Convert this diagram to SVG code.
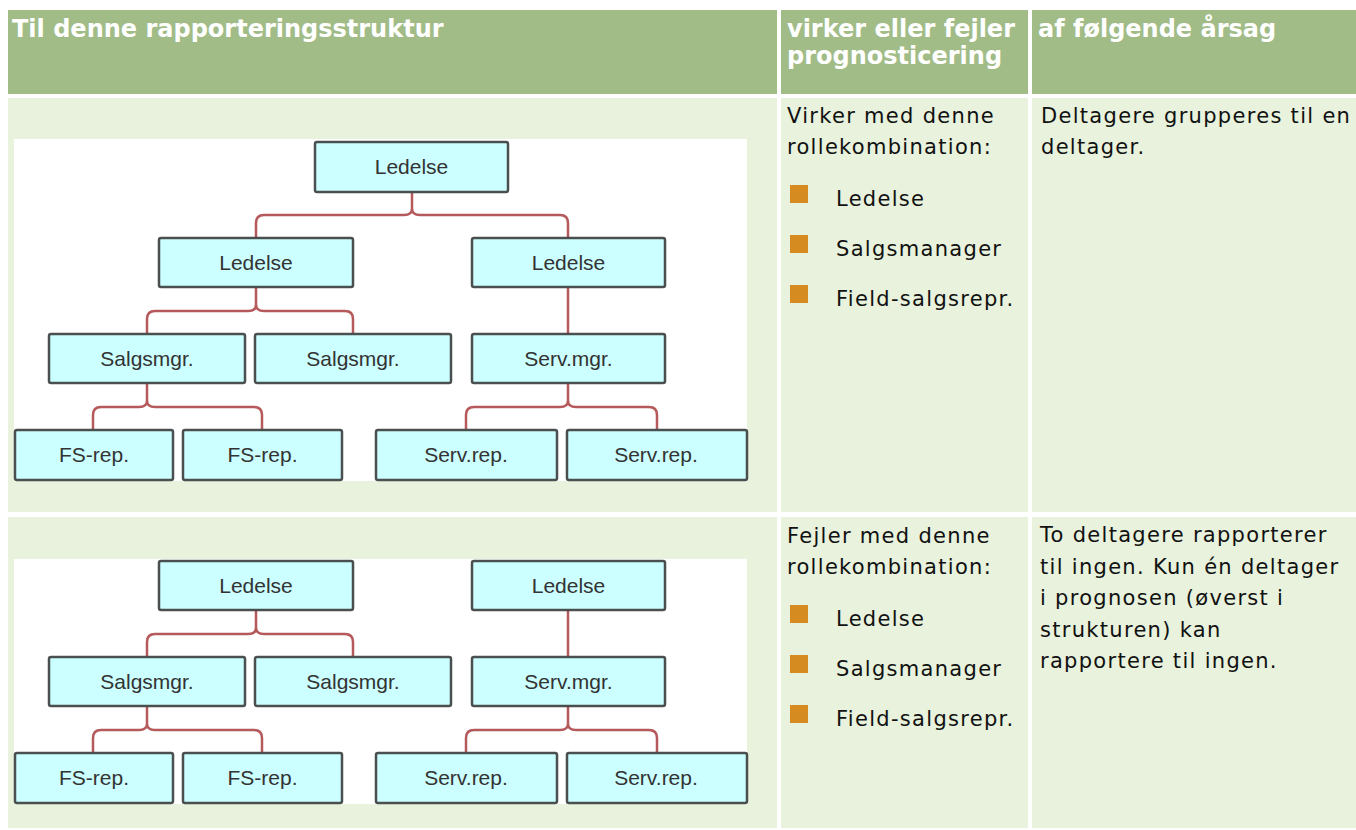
<svg xmlns="http://www.w3.org/2000/svg" width="1356" height="830" viewBox="0 0 1356 830">
<style>
.hdr{fill:#a1bc87}
.cell{fill:#e8f2dc}
.canvas{fill:#ffffff}
.ht{font-family:"DejaVu Sans",sans-serif;font-weight:bold;font-size:24px;fill:#ffffff}
.bt{font-family:"DejaVu Sans",sans-serif;font-size:21px;letter-spacing:1.3px;fill:#111111}
.bul{fill:#d58b20}
.box{fill:#ccffff;stroke:#4a4f4f;stroke-width:2.5}
.nt{font-family:"Liberation Sans",Arial,sans-serif;font-size:21px;fill:#333333;text-anchor:middle}
.con{fill:none;stroke:#b5595b;stroke-width:2.5}
</style>
<rect x="0" y="0" width="1356" height="830" fill="#ffffff"/>
<g id="table">
<rect class="hdr" x="8" y="10" width="769" height="84"/>
<rect class="hdr" x="781" y="10" width="247" height="84"/>
<rect class="hdr" x="1032" y="10" width="324" height="84"/>
<rect class="cell" x="8" y="98" width="769" height="414"/>
<rect class="cell" x="781" y="98" width="247" height="414"/>
<rect class="cell" x="1032" y="98" width="324" height="414"/>
<rect class="cell" x="8" y="517" width="769" height="311"/>
<rect class="cell" x="781" y="517" width="247" height="311"/>
<rect class="cell" x="1032" y="517" width="324" height="311"/>
<rect class="canvas" x="14" y="139" width="733" height="342"/>
<rect class="canvas" x="14" y="559" width="733" height="245"/>
</g>
<g id="header-text">
<text class="ht" x="12" y="37">Til denne rapporteringsstruktur</text>
<text class="ht" x="787" y="37">virker eller fejler</text>
<text class="ht" x="787" y="64">prognosticering</text>
<text class="ht" x="1038" y="37">af følgende årsag</text>
</g>
<g id="row1-text">
<text class="bt" x="787" y="123">Virker med denne</text>
<text class="bt" x="787" y="154">rollekombination:</text>
<rect class="bul" x="790" y="185" width="18" height="18"/>
<text class="bt" x="836" y="206">Ledelse</text>
<rect class="bul" x="790" y="235" width="18" height="18"/>
<text class="bt" x="836" y="256">Salgsmanager</text>
<rect class="bul" x="790" y="285" width="18" height="18"/>
<text class="bt" x="836" y="306">Field-salgsrepr.</text>
<text class="bt" x="1041" y="123">Deltagere grupperes til en</text>
<text class="bt" x="1041" y="154">deltager.</text>
</g>
<g id="row2-text">
<text class="bt" x="787" y="543">Fejler med denne</text>
<text class="bt" x="787" y="574">rollekombination:</text>
<rect class="bul" x="790" y="605" width="18" height="18"/>
<text class="bt" x="836" y="626">Ledelse</text>
<rect class="bul" x="790" y="655" width="18" height="18"/>
<text class="bt" x="836" y="676">Salgsmanager</text>
<rect class="bul" x="790" y="705" width="18" height="18"/>
<text class="bt" x="836" y="726">Field-salgsrepr.</text>
<text class="bt" x="1040" y="542">To deltagere rapporterer</text>
<text class="bt" x="1040" y="573.5">til ingen. Kun én deltager</text>
<text class="bt" x="1040" y="605">i prognosen (øverst i</text>
<text class="bt" x="1040" y="636.5">strukturen) kan</text>
<text class="bt" x="1040" y="668">rapportere til ingen.</text>
</g>
<g id="connectors">
<path class="con" d="M412,192 V209 Q412,215 404,215 H264 Q256,215 256,223 V238"/>
<path class="con" d="M412,209 Q412,215 420,215 H560 Q568,215 568,223 V238"/>
<path class="con" d="M256,287 V305 Q256,311 248,311 H155 Q147,311 147,319 V334"/>
<path class="con" d="M256,305 Q256,311 264,311 H345 Q353,311 353,319 V334"/>
<path class="con" d="M568,287 V334"/>
<path class="con" d="M147,383 V401 Q147,407 139,407 H101 Q93,407 93,415 V430"/>
<path class="con" d="M147,401 Q147,407 155,407 H254 Q262,407 262,415 V430"/>
<path class="con" d="M568,383 V401 Q568,407 560,407 H474 Q466,407 466,415 V430"/>
<path class="con" d="M568,401 Q568,407 576,407 H649 Q657,407 657,415 V430"/>
<path class="con" d="M256,610 V628 Q256,634 248,634 H155 Q147,634 147,642 V657"/>
<path class="con" d="M256,628 Q256,634 264,634 H345 Q353,634 353,642 V657"/>
<path class="con" d="M568,610 V657"/>
<path class="con" d="M147,706 V724 Q147,730 139,730 H101 Q93,730 93,738 V753"/>
<path class="con" d="M147,724 Q147,730 155,730 H254 Q262,730 262,738 V753"/>
<path class="con" d="M568,706 V724 Q568,730 560,730 H474 Q466,730 466,738 V753"/>
<path class="con" d="M568,724 Q568,730 576,730 H649 Q657,730 657,738 V753"/>
</g>
<g id="r1-top"><rect class="box" x="315" y="142" width="193" height="50" rx="2"/><text class="nt" x="411.5" y="174">Ledelse</text></g>
<g id="r1-led-l"><rect class="box" x="159" y="238" width="194" height="49" rx="2"/><text class="nt" x="256" y="270">Ledelse</text></g>
<g id="r1-led-r"><rect class="box" x="472" y="238" width="193" height="49" rx="2"/><text class="nt" x="568.5" y="270">Ledelse</text></g>
<g id="r1-sm1"><rect class="box" x="49" y="334" width="196" height="49" rx="2"/><text class="nt" x="147" y="366">Salgsmgr.</text></g>
<g id="r1-sm2"><rect class="box" x="255" y="334" width="196" height="49" rx="2"/><text class="nt" x="353" y="366">Salgsmgr.</text></g>
<g id="r1-svm"><rect class="box" x="472" y="334" width="193" height="49" rx="2"/><text class="nt" x="568.5" y="366">Serv.mgr.</text></g>
<g id="r1-fs1"><rect class="box" x="15" y="430" width="158" height="50" rx="2"/><text class="nt" x="94" y="462">FS-rep.</text></g>
<g id="r1-fs2"><rect class="box" x="183" y="430" width="159" height="50" rx="2"/><text class="nt" x="262.5" y="462">FS-rep.</text></g>
<g id="r1-sr1"><rect class="box" x="376" y="430" width="181" height="50" rx="2"/><text class="nt" x="466" y="462">Serv.rep.</text></g>
<g id="r1-sr2"><rect class="box" x="567" y="430" width="180" height="50" rx="2"/><text class="nt" x="656" y="462">Serv.rep.</text></g>
<g id="r2-led-l"><rect class="box" x="159" y="561" width="194" height="49" rx="2"/><text class="nt" x="256" y="593">Ledelse</text></g>
<g id="r2-led-r"><rect class="box" x="472" y="561" width="193" height="49" rx="2"/><text class="nt" x="568.5" y="593">Ledelse</text></g>
<g id="r2-sm1"><rect class="box" x="49" y="657" width="196" height="49" rx="2"/><text class="nt" x="147" y="689">Salgsmgr.</text></g>
<g id="r2-sm2"><rect class="box" x="255" y="657" width="196" height="49" rx="2"/><text class="nt" x="353" y="689">Salgsmgr.</text></g>
<g id="r2-svm"><rect class="box" x="472" y="657" width="193" height="49" rx="2"/><text class="nt" x="568.5" y="689">Serv.mgr.</text></g>
<g id="r2-fs1"><rect class="box" x="15" y="753" width="158" height="50" rx="2"/><text class="nt" x="94" y="785">FS-rep.</text></g>
<g id="r2-fs2"><rect class="box" x="183" y="753" width="159" height="50" rx="2"/><text class="nt" x="262.5" y="785">FS-rep.</text></g>
<g id="r2-sr1"><rect class="box" x="376" y="753" width="181" height="50" rx="2"/><text class="nt" x="466" y="785">Serv.rep.</text></g>
<g id="r2-sr2"><rect class="box" x="567" y="753" width="180" height="50" rx="2"/><text class="nt" x="656" y="785">Serv.rep.</text></g>
</svg>
